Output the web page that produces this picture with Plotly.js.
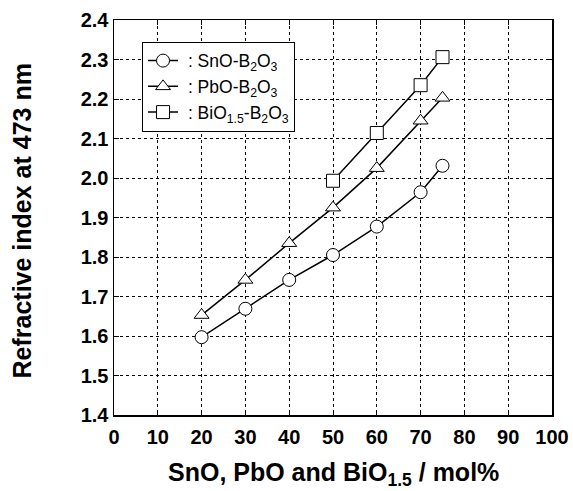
<!DOCTYPE html>
<html><head><meta charset="utf-8">
<script src="https://cdn.plot.ly/plotly-3.0.1.min.js"></script>
<style>body{margin:0;padding:0;background:#fff}#chart{width:573px;height:491px}</style>
</head><body><div id="chart"></div>
<script>
const snoX = [20, 30, 40, 50, 60, 70, 75];
const snoY = [1.597, 1.669, 1.742, 1.805, 1.877, 1.964, 2.031];
const pboX = [20, 30, 40, 50, 60, 70, 75];
const pboY = [1.653, 1.742, 1.835, 1.925, 2.025, 2.145, 2.203];
const bioX = [50, 60, 70, 75];
const bioY = [1.993, 2.114, 2.235, 2.306];
const names = [' : SnO-B<sub>2</sub>O<sub>3</sub>', ' : PbO-B<sub>2</sub>O<sub>3</sub>', ' : BiO<sub>1.5</sub>-B<sub>2</sub>O<sub>3</sub>'];
const xTicks = [0,10,20,30,40,50,60,70,80,90,100];
const yTicks = [1.4,1.5,1.6,1.7,1.8,1.9,2.0,2.1,2.2,2.3,2.4];
const xTitle = '<b>SnO, PbO and BiO<sub>1.5</sub> / mol%</b>';
const yTitle = '<b>Refractive index at 473 nm</b>';

const FONT = 'Liberation Sans, Arial, sans-serif';
function tr(x, y, name, sym, size) {
  return {x: x, y: y, name: name, type: 'scatter', mode: 'lines+markers',
    line: {color: '#000', width: 1.5},
    marker: {symbol: sym, size: size, color: '#fff', line: {color: '#000', width: 1}}};
}
const data = [
  tr(snoX, snoY, names[0], 'circle', 13),
  tr(pboX, pboY, names[1], 'triangle-up', 13),
  tr(bioX, bioY, names[2], 'square', 13)
];

function axis(extra) {
  return Object.assign({
    showline: true, linecolor: '#000', linewidth: 1.5, mirror: 'allticks',
    ticks: 'inside', ticklen: 5, tickwidth: 1, tickcolor: '#000',
    showgrid: true, gridcolor: '#000', gridwidth: 1, griddash: 'dot',
    zeroline: false,
    tickfont: {family: FONT, size: 20, color: '#000', weight: 'bold'}
  }, extra);
}
const layout = {
  width: 573, height: 491,
  margin: {l: 114, r: 21, t: 20, b: 76},
  paper_bgcolor: '#fff', plot_bgcolor: '#fff',
  font: {family: FONT, color: '#000'},
  xaxis: axis({range: [0, 100], tickvals: xTicks, ticktext: xTicks.map(v => '<b>' + v + '</b>'), ticklabelstandoff: 3}),
  yaxis: axis({range: [1.4, 2.4], tickvals: yTicks, ticktext: yTicks.map(v => '<b>' + v.toFixed(1) + '</b>')}),
  annotations: [
    {text: xTitle, xref: 'paper', yref: 'paper', x: 0.5, y: -0.15, xanchor: 'center', yanchor: 'middle',
     showarrow: false, font: {size: 25, color: '#000', family: FONT}},
    {text: yTitle, xref: 'paper', yref: 'paper', x: -0.21, y: 0.49, xanchor: 'center', yanchor: 'middle',
     textangle: -90, showarrow: false, font: {size: 25, color: '#000', family: FONT}}
  ],
  showlegend: true,
  legend: {x: 0.064, y: 0.945, xanchor: 'left', yanchor: 'top',
    bgcolor: '#fff', bordercolor: '#000', borderwidth: 1,
    font: {size: 17.5, color: '#000', family: FONT},
    itemwidth: 30, tracegroupgap: 0}
};
Plotly.newPlot('chart', data, layout, {displayModeBar: false, staticPlot: true});
</script></body></html>
